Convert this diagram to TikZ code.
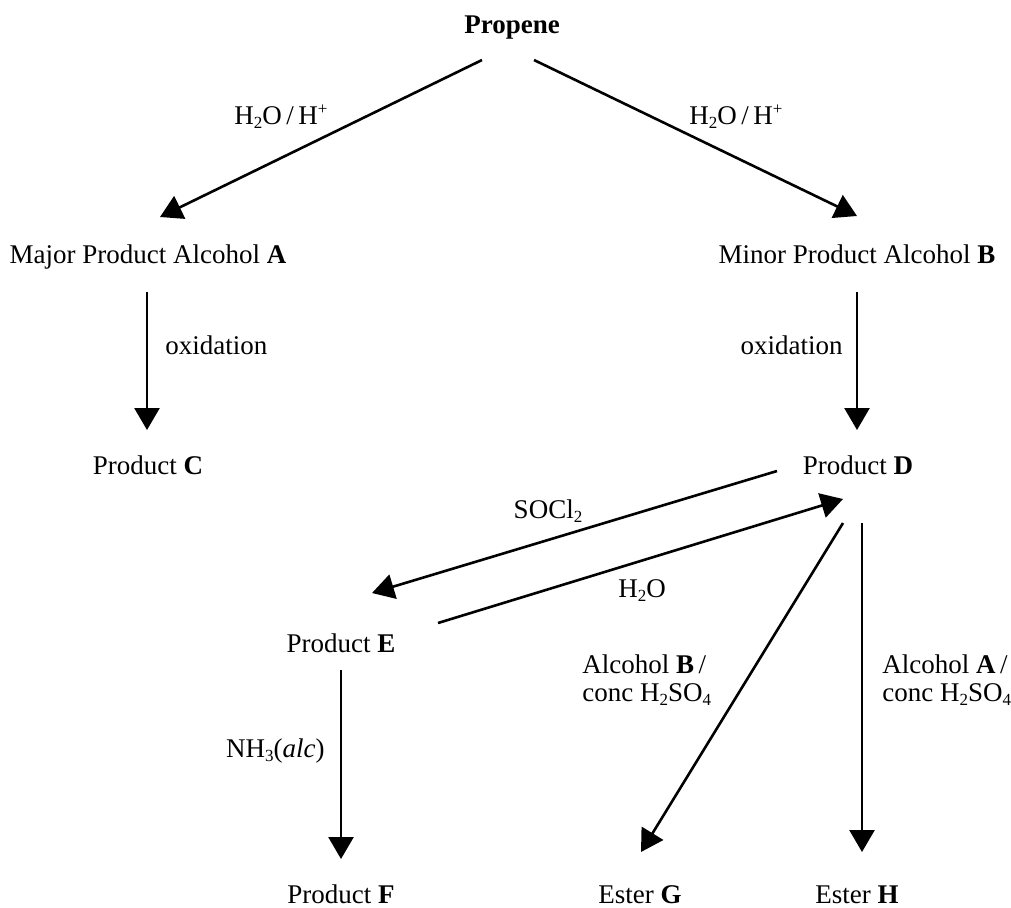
\documentclass[tikz,border=0pt]{standalone}
\usepackage{fontspec}
\setmainfont{Liberation Serif}
\usetikzlibrary{arrows.meta}
\newcommand{\chsub}[1]{\raisebox{-0.4ex}{\fontsize{8.5}{9}\selectfont #1}}
\newcommand{\chsup}[1]{\raisebox{0.75ex}{\fontsize{8.5}{9}\selectfont #1}}

\begin{document}
\begin{tikzpicture}[x=0.5pt,y=-0.5pt,
		cmpd/.style={anchor=base,inner sep=0pt,font=\fontsize{13.5}{16}\selectfont},
		rxn/.style={line width=1.3pt,-{Triangle[length=11pt,width=12.5pt]}}]
		\useasboundingbox (0,0) rectangle (1011,907);
		% compounds
		\node[cmpd] (propene) at (512,33) {\textbf{Propene}};
		\node[cmpd] (A) at (148,263) {Major Product Alcohol \textbf{A}};
		\node[cmpd] (B) at (857,263) {Minor Product Alcohol \textbf{B}};
		\node[cmpd] (C) at (148,474) {Product \textbf{C}};
		\node[cmpd] (D) at (858,474) {Product \textbf{D}};
		\node[cmpd] (E) at (341,652) {Product \textbf{E}};
		\node[cmpd] (F) at (341,903) {Product \textbf{F}};
		\node[cmpd] (G) at (640,903) {Ester \textbf{G}};
		\node[cmpd] (H) at (857,903) {Ester \textbf{H}};
		% reagents
		\node[cmpd] (hydA) at (281,124) {H\chsub{2}O\,/\,H\chsup{+}};
		\node[cmpd] (hydB) at (736,124) {H\chsub{2}O\,/\,H\chsup{+}};
		\node[cmpd,anchor=base west] (oxA) at (165,354) {oxidation};
		\node[cmpd,anchor=base east] (oxB) at (843,354) {oxidation};
		\node[cmpd] (socl) at (548,518) {SOCl\chsub{2}};
		\node[cmpd] (water) at (642,597) {H\chsub{2}O};
		\node[cmpd,anchor=base east] (amm) at (325,757) {NH\chsub{3}(\textit{alc})};
		\node[cmpd,anchor=base west] (estB) at (582,673) {Alcohol \textbf{B}\,/};
		\node[cmpd,anchor=base west] (acidB) at (582,701) {conc H\chsub{2}SO\chsub{4}};
		\node[cmpd,anchor=base west] (estA) at (882,673) {Alcohol \textbf{A}\,/};
		\node[cmpd,anchor=base west] (acidA) at (882,701) {conc H\chsub{2}SO\chsub{4}};
		% arrows
		\draw[rxn] ([shift={(-30,27)}]propene.base) to ([shift={(12,-46)}]A.base);
		\draw[rxn] ([shift={(22,27)}]propene.base) to ([shift={(0,-47)}]B.base);
		\draw[rxn] ([shift={(-1,29)}]A.base) to ([shift={(-1,-44)}]C.base);
		\draw[rxn] ([shift={(0,29)}]B.base) to ([shift={(-1,-44)}]D.base);
		\draw[rxn] ([shift={(-81,-3)}]D.base) to ([shift={(31,-59)}]E.base);
		\draw[rxn] ([shift={(97,-29)}]E.base) to ([shift={(-15,25)}]D.base);
		\draw[rxn] ([shift={(0,18)}]E.base) to ([shift={(0,-44)}]F.base);
		\draw[rxn] ([shift={(-15,49)}]D.base) to ([shift={(1,-51)}]G.base);
		\draw[rxn] ([shift={(4,49)}]D.base) to ([shift={(5,-51)}]H.base);
	\end{tikzpicture}
\end{document}
